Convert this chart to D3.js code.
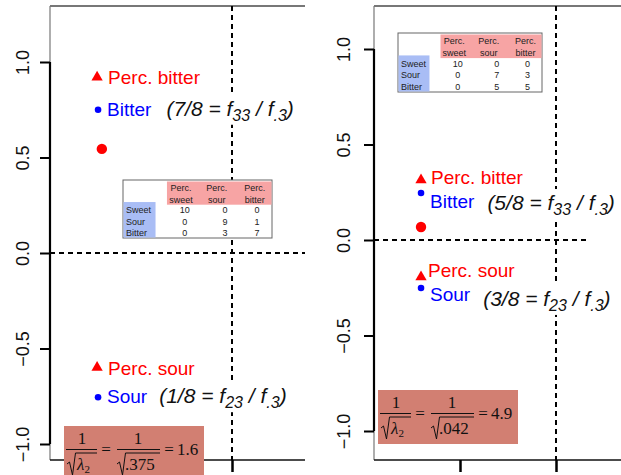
<!DOCTYPE html>
<html>
<head>
<meta charset="utf-8">
<script src="https://cdn.jsdelivr.net/npm/d3@7"></script>
<style>
  body { margin: 0; background: #fff; }
  svg { display: block; }
</style>
</head>
<body>
<svg id="chart" width="621" height="475"></svg>
<script>
// ---- data ----
const yTicks = [-1, -0.5, 0, 0.5, 1]
const xTicks = [-0.5, 0]

const tableRows = ['Sweet', 'Sour', 'Bitter']
const tableCols = [['Perc.', 'sweet'], ['Perc.', 'sour'], ['Perc.', 'bitter']]
const countsA = [[10, 0, 0], [0, 9, 1], [0, 3, 7]]
const countsB = [[10, 0, 0], [0, 7, 3], [0, 5, 5]]

const colPointsA = [{name: 'Perc. bitter', x: -0.71, y: 0.92}, {name: 'Perc. sour', x: -0.71, y: -0.60}]
const rowPointsA = [{name: 'Bitter', x: -0.705, y: 0.75}, {name: 'Sour', x: -0.705, y: -0.755}]
const centroidA = [{x: -0.685, y: 0.545}]
const colPointsB = [{name: 'Perc. bitter', x: -0.703, y: 0.314}, {name: 'Perc. sour', x: -0.703, y: -0.194}]
const rowPointsB = [{name: 'Bitter', x: -0.703, y: 0.246}, {name: 'Sour', x: -0.703, y: -0.251}]
const centroidB = [{x: -0.703, y: 0.068}]

const ratiosA = [['7/8', '33'], ['1/8', '23']]
const ratiosB = [['5/8', '33'], ['3/8', '23']]
const lambdaA = ['.375', '1.6']
const lambdaB = ['.042', '4.9']

// ---- layout of each panel (pixels) ----
const panels = [
  {
    box: {x0: 50, x1: 305, y0: 6, y1: 460},
    x: d3.scaleLinear().domain([-0.5, 0]).range([137, 232]),
    y: d3.scaleLinear().domain([0, 1]).range([253, 62]),
    hEnd: 305,
    tickLabelX: 29,
    table: {x: 123, y: 180, w: 149, h: 58},
    lambdaBox: {x: 64, y: 426},
    colOff: [[11, 7], [11, 7]],
    rowOff: [[9, 6], [9, 6]],
    ratioGap: [15, 12], ratioDy: [0, 0],
    cols: colPointsA, rows: rowPointsA, centroid: centroidA,
    counts: countsA, ratios: ratiosA, lambda: lambdaA,
  },
  {
    box: {x0: 374, x1: 640, y0: 6, y1: 460},
    x: d3.scaleLinear().domain([-0.5, 0]).range([460, 556]),
    y: d3.scaleLinear().domain([0, 1]).range([240, 49]),
    hEnd: 590,
    tickLabelX: 350,
    table: {x: 398, y: 33, w: 144, h: 59},
    lambdaBox: {x: 378, y: 390},
    colOff: [[10, 4], [7, 0]],
    rowOff: [[9, 15], [9, 13]],
    ratioGap: [13, 13], ratioDy: [2, 5],
    cols: colPointsB, rows: rowPointsB, centroid: centroidB,
    counts: countsB, ratios: ratiosB, lambda: lambdaB,
  },
]

const SANS = '"Liberation Sans", Arial, sans-serif'
const SERIF = '"Liberation Serif", "Times New Roman", serif'
const svg = d3.select('#chart')

function drawTable(g, t, counts) {
  const tg = g.append('g').attr('transform', `translate(${t.x},${t.y})`)
    .style('font-family', SANS).style('font-size', '9px').attr('fill', '#222')
  tg.append('rect').attr('width', t.w).attr('height', t.h)
    .attr('fill', '#fff').attr('stroke', '#666').attr('stroke-width', 1)
  tg.append('rect').attr('x', 0.295 * t.w).attr('y', 1.5).attr('width', t.w * 0.705 - 0.5).attr('height', 0.4 * t.h)
    .attr('fill', '#f7a4a4')
  tg.append('rect').attr('x', 0.5).attr('y', 0.38 * t.h).attr('width', 0.215 * t.w).attr('height', 0.62 * t.h - 0.5)
    .attr('fill', '#a9bdf5')
  const hx = [0.39, 0.63, 0.885], nx = [0.415, 0.685, 0.9]
  tableCols.forEach((c, j) => {
    c.forEach((line, k) => {
      tg.append('text').attr('x', hx[j] * t.w).attr('y', (k ? 0.34 : 0.13) * t.h + 3.2)
        .attr('text-anchor', 'middle').text(line)
    })
  })
  const ry = [0.52, 0.715, 0.905]
  tableRows.forEach((r, i) => {
    tg.append('text').attr('x', 3).attr('y', ry[i] * t.h + 3.2).text(r)
    counts[i].forEach((v, j) => {
      tg.append('text').attr('x', nx[j] * t.w).attr('y', ry[i] * t.h + 3.2)
        .attr('text-anchor', 'middle').text(v)
    })
  })
}

function drawLambda(g, b, lam) {
  const lg = g.append('g').attr('transform', `translate(${b.x},${b.y})`)
    .style('font-family', SERIF).style('font-size', '17px').attr('fill', '#111')
  lg.append('rect').attr('width', 140).attr('height', 54).attr('fill', '#d27f72')
  const line = (x1, x2, y) => lg.append('line').attr('x1', x1).attr('x2', x2).attr('y1', y).attr('y2', y)
    .attr('stroke', '#111').attr('stroke-width', 1)
  const radical = (x0, x1) => lg.append('path')
    .attr('d', `M${x0},${38} L${x0 + 2.5},${36} L${x0 + 5.5},${49} L${x0 + 8.5},${27} L${x1},${27}`)
    .attr('fill', 'none').attr('stroke', '#111').attr('stroke-width', 1)

  // 1 / sqrt(lambda_2)
  lg.append('text').attr('x', 18).attr('y', 18).attr('text-anchor', 'middle').text('1')
  line(2, 33, 23.5)
  radical(3, 33)
  const den = lg.append('text').attr('x', 13).attr('y', 44)
  den.append('tspan').style('font-style', 'italic').text('λ')
  den.append('tspan').attr('dy', 3).style('font-size', '11px').text('2')
  lg.append('text').attr('x', 42).attr('y', 29).attr('text-anchor', 'middle').text('=')

  // 1 / sqrt(value)
  lg.append('text').attr('x', 74).attr('y', 18).attr('text-anchor', 'middle').text('1')
  line(53, 96, 23.5)
  radical(53, 96)
  lg.append('text').attr('x', 61).attr('y', 44).text(lam[0])
  lg.append('text').attr('x', 105).attr('y', 29).attr('text-anchor', 'middle').text('=')
  lg.append('text').attr('x', 113).attr('y', 29).text(lam[1])
}

function drawRatio(g, x, y, r) {
  const tg = g.append('g')
  const txt = tg.append('text').attr('x', x).attr('y', y)
    .style('font-family', SANS).style('font-size', '21px').style('font-style', 'italic').attr('fill', '#111')
  txt.append('tspan').text(`(${r[0]} = f`)
  txt.append('tspan').attr('dy', 5).style('font-size', '16px').text(r[1])
  txt.append('tspan').attr('dy', -5).text(' /  f')
  txt.append('tspan').attr('dy', 5).style('font-size', '16px').text('.3')
  txt.append('tspan').attr('dy', -5).text(')')
  const bb = txt.node().getBBox()
  tg.insert('rect', 'text').attr('x', bb.x - 3).attr('y', bb.y - 2)
    .attr('width', bb.width + 6).attr('height', bb.height + 3).attr('fill', '#fff')
}

panels.forEach(p => {
  const g = svg.append('g')
  const {x, y, box} = p

  // plot frame
  g.append('line').attr('x1', box.x0).attr('x2', box.x1).attr('y1', box.y0).attr('y2', box.y0)
    .attr('stroke', '#777').attr('stroke-width', 2)
  g.append('line').attr('x1', box.x0).attr('x2', box.x0).attr('y1', box.y0).attr('y2', box.y1)
    .attr('stroke', '#777').attr('stroke-width', 1.2)
  g.append('line').attr('x1', box.x0).attr('x2', box.x1).attr('y1', box.y1).attr('y2', box.y1)
    .attr('stroke', '#111').attr('stroke-width', 1.5)

  // reference lines at 0
  g.append('line').attr('x1', x(0)).attr('x2', x(0)).attr('y1', box.y0).attr('y2', box.y1)
    .attr('stroke', '#000').attr('stroke-width', 2).attr('stroke-dasharray', '5,4')
  g.append('line').attr('x1', box.x0).attr('x2', p.hEnd).attr('y1', y(0)).attr('y2', y(0))
    .attr('stroke', '#000').attr('stroke-width', 2).attr('stroke-dasharray', '5,4')

  // y axis
  const yAxis = d3.axisLeft(y).tickValues(yTicks).tickSize(10).tickFormat(d3.format('.1f'))
  const ya = g.append('g').attr('transform', `translate(${box.x0},0)`).call(yAxis)
  ya.select('.domain').attr('d', `M0,${y(1)}V${y(-1)}`).attr('stroke', '#000').attr('stroke-width', 2.2)
  ya.selectAll('.tick line').attr('stroke', '#000').attr('stroke-width', 2)
  ya.selectAll('.tick text')
    .attr('transform', `translate(${p.tickLabelX - box.x0},0) rotate(-90)`)
    .attr('x', 0).attr('y', 0).attr('dy', 0)
    .attr('text-anchor', 'middle')
    .style('font-family', SANS).style('font-size', '18px').attr('fill', '#111')

  // x axis ticks (labels cut off below the frame)
  const xAxis = d3.axisBottom(x).tickValues(xTicks).tickSize(12).tickFormat('')
  const xa = g.append('g').attr('transform', `translate(0,${box.y1})`).call(xAxis)
  xa.select('.domain').remove()
  xa.selectAll('.tick line').attr('stroke', '#000').attr('stroke-width', 2.5)

  // contingency table
  drawTable(g, p.table, p.counts)

  // points
  g.selectAll('.centroid').data(p.centroid).join('circle').attr('class', 'centroid')
    .attr('cx', d => x(d.x)).attr('cy', d => y(d.y)).attr('r', 5.2).attr('fill', '#ff0000')
  g.selectAll('.colpt').data(p.cols).join('path').attr('class', 'colpt')
    .attr('d', d3.symbol(d3.symbolTriangle, 55))
    .attr('transform', d => `translate(${x(d.x)},${y(d.y)})`).attr('fill', '#ff0000')
  g.selectAll('.rowpt').data(p.rows).join('circle').attr('class', 'rowpt')
    .attr('cx', d => x(d.x)).attr('cy', d => y(d.y)).attr('r', 3.3).attr('fill', '#0000ff')

  // labels
  p.cols.forEach((d, i) => {
    g.append('text').attr('x', x(d.x) + p.colOff[i][0]).attr('y', y(d.y) + p.colOff[i][1])
      .style('font-family', SANS).style('font-size', '19px').attr('fill', '#ff0000').text(d.name)
  })
  p.rows.forEach((d, i) => {
    const lx = x(d.x) + p.rowOff[i][0], ly = y(d.y) + p.rowOff[i][1]
    const t = g.append('text').attr('x', lx).attr('y', ly)
      .style('font-family', SANS).style('font-size', '19px').attr('fill', '#0000ff').text(d.name)
    const w = t.node().getComputedTextLength()
    drawRatio(g, lx + w + p.ratioGap[i], ly + p.ratioDy[i], p.ratios[i])
  })

  // 1/sqrt(lambda) annotation
  drawLambda(g, p.lambdaBox, p.lambda)
})
</script>
</body>
</html>
